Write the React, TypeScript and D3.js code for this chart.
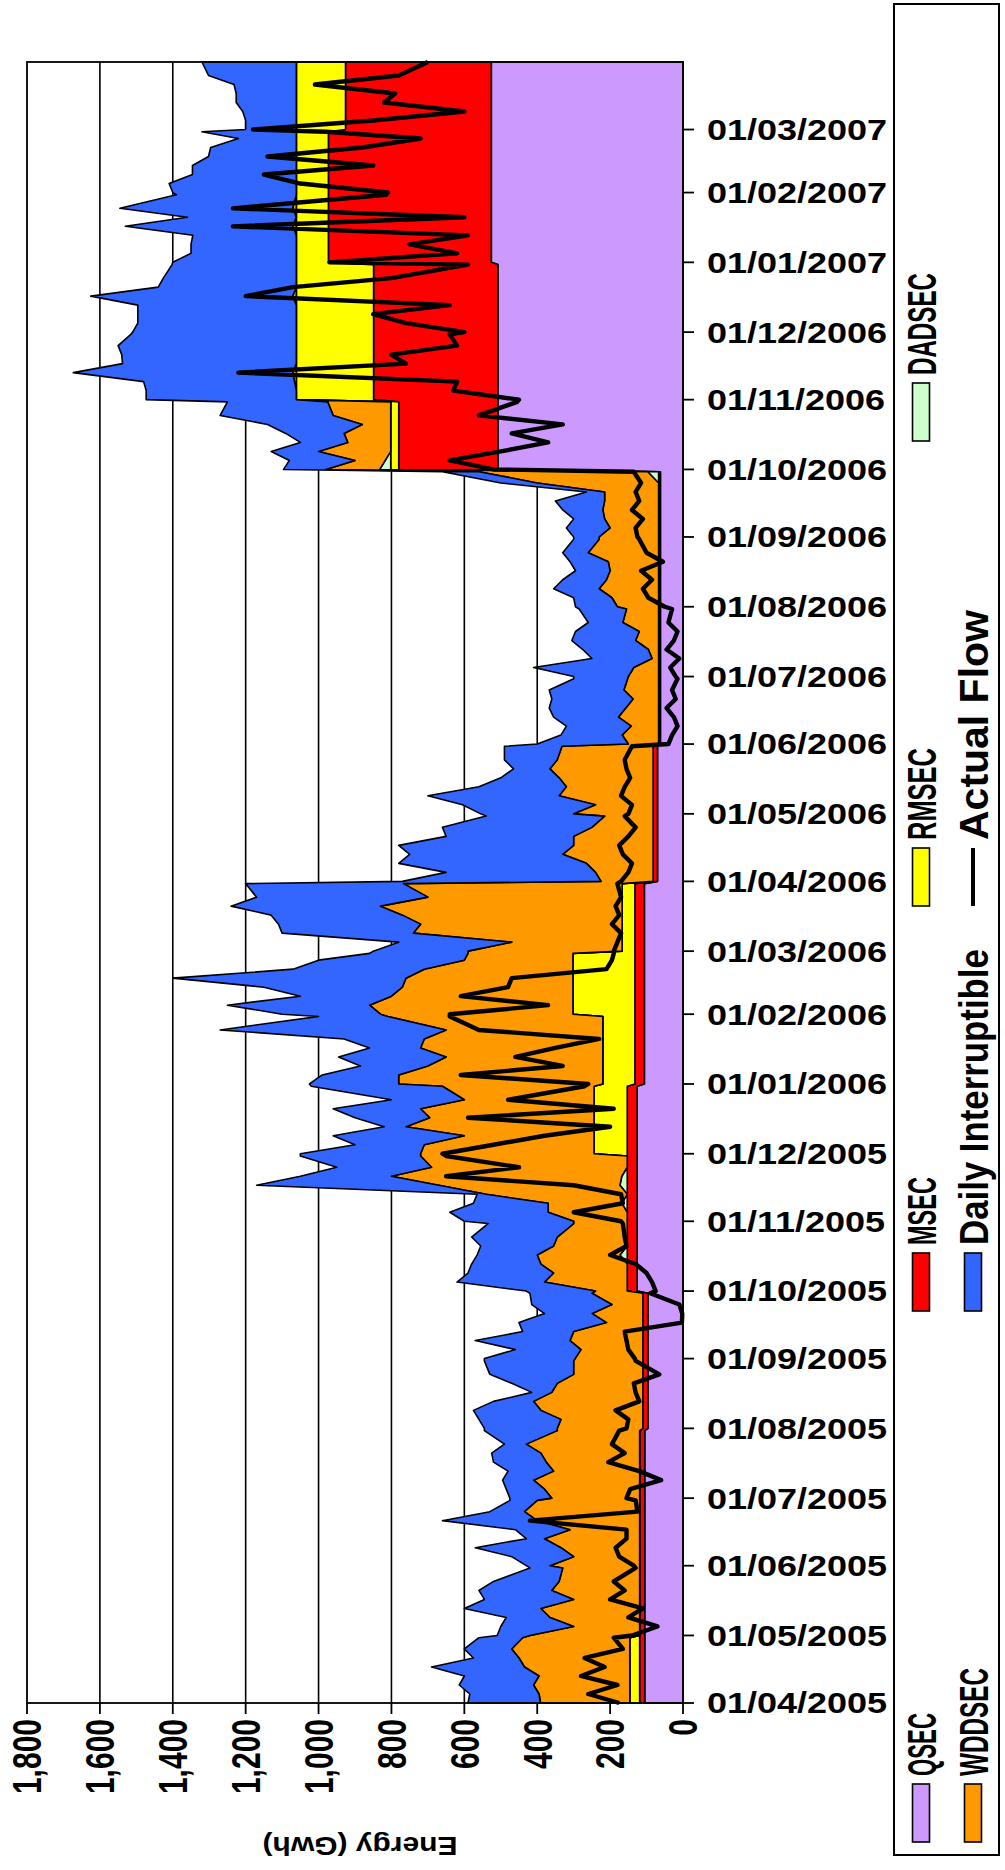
import React from "react";
import * as d3 from "d3";

// ---------- DATA ----------
const MONTHS = [
  "2005-04","2005-05","2005-06","2005-07","2005-08","2005-09","2005-10","2005-11","2005-12",
  "2006-01","2006-02","2006-03","2006-04","2006-05","2006-06","2006-07","2006-08","2006-09",
  "2006-10","2006-11","2006-12","2007-01","2007-02","2007-03",
];
// sample days inside each month (0 = last day of month)
const SAMPLE_DAYS = [1, 5, 9, 13, 17, 21, 25, 0];

// monthly constant series (GWh)
const QSEC = [105,105,105,105,96,96,126,126,126,106,106,106,70,70,62,62,62,62,508,508,508,526,526,526];
const MSEC = [14,14,14,14,14,14,27,27,27,26,26,26,12,12,5,5,5,5,272,341,341,447,447,400];
const RMSEC = [27,0,0,0,0,0,0,0,91,88,170,35,0,0,0,0,0,0,22,212,212,88,88,135];

// per-sample series (8 samples per month)
const DADSEC = [
  [0,0,0,0,0,0,0,0],[0,0,0,0,0,0,0,0],[0,0,0,0,0,0,0,0],[0,0,0,0,0,0,0,0],
  [0,0,0,0,0,0,0,0],[0,0,0,0,0,0,0,0],[0,0,0,0,20,0,0,0],[0,0,15,0,20,15,0,0],
  [0,0,0,0,0,0,0,0],[0,0,0,0,0,0,0,0],[0,0,0,0,0,0,0,0],[0,0,0,0,0,0,0,0],
  [0,0,0,0,0,0,0,0],[0,0,0,0,0,0,0,0],[0,0,0,0,0,0,0,0],[0,0,0,0,0,0,0,0],
  [0,0,0,0,0,0,0,0],[0,0,0,0,0,0,0,30],[30,15,0,0,0,0,0,0],[0,0,0,0,0,0,0,0],
  [0,0,0,0,0,0,0,0],[0,0,0,0,0,0,0,0],[0,0,0,0,0,0,0,0],[0,0,0,0,0,0,0,0],
];
const WDDSEC = [
  [245,249,264,249,289,304,324,294],
  [301,181,246,271,181,241,221,211],
  [246,181,216,261,191,281,316,281],
  [241,261,291,236,256,271,311,226],
  [235,225,280,300,250,235,190,190],
  [186,170,200,190,100,139,85,140],
  [87,227,202,237,227,202,192,147],
  [147,217,202,387,497,632,537,567],
  [476,466,356,516,451,476,356,416],
  [560,560,480,430,500,490,430,590],
  [528,558,498,468,458,408,298,288],
  [423,303,573,553,603,663,533,600],
  [143,158,183,248,218,218,168,133],
  [218,158,258,238,258,283,263,250],
  [83,100,75,110,90,70,95,85],
  [83,68,18,28,63,53,98,88],
  [113,128,163,143,133,138,193,163],
  [163,133,148,153,148,148,333,463],
  [148,83,198,118,128,78,158,173],
  [0,0,5,10,0,0,0,0],
  [0,0,0,0,10,0,0,0],
  [0,0,0,0,10,0,10,0],
  [0,0,0,0,0,0,0,0],
  [0,0,0,0,0,0,0,0],
];
const DAILY_INT = [
  [199,190,204,205,255,125,130,120],
  [90,200,120,210,245,200,180,90],
  [65,170,235,50,150,260,95,75],
  [115,105,85,125,145,135,60,200],
  [200,225,185,110,55,125,230,245],
  [249,180,260,140,240,131,220,170],
  [190,240,235,190,165,200,235,235],
  [300,270,205,25,500,250,260,330],
  [330,190,360,60,205,240,200,360],
  [245,210,185,295,140,220,620,190],
  [270,390,250,380,640,360,400,270],
  [260,310,360,390,360,410,470,433],
  [545,410,515,420,480,350,410,325],
  [255,365,360,240,160,100,145,158],
  [250,168,178,178,210,223,205,148],
  [150,275,165,180,175,175,95,130],
  [115,105,125,120,95,105,70,70],
  [70,120,85,110,135,50,100,100],
  [116,180,130,130,160,260,310,275],
  [412,412,414,602,477,479,489,454],
  [449,435,435,435,554,379,365,341],
  [339,289,289,284,459,299,474,329],
  [339,349,285,285,241,235,159,259],
  [139,139,147,165,165,171,241,259],
];
const ACTUAL_FLOW = [
  [175,260,180,280,215,270,165,190],
  [140,70,150,110,200,160,190,130],
  [135,175,185,155,155,420,125,130],
  [155,145,60,120,205,160,195,175],
  [155,150,185,120,130,135,65,130],
  [132,150,155,160,3,2,10,90],
  [75,85,100,130,200,155,160,165],
  [170,300,165,170,300,650,450,650],
  [660,520,380,200,590,190,480,270],
  [260,610,330,460,350,230,560,640],
  [640,370,610,480,470,210,195,190],
  [190,180,170,195,175,185,170,180],
  [170,150,140,165,175,150,130,160],
  [150,140,170,160,145,155,160,140],
  [40,30,15,25,45,20,30,15],
  [20,35,10,45,25,15,40,30],
  [50,95,110,85,115,55,100,120],
  [125,130,110,140,120,130,115,135],
  [520,640,500,370,470,330,560,455],
  [450,630,620,1220,760,800,620,640],
  [600,760,850,640,1200,1070,800,590],
  [970,620,750,590,1235,600,1235,815],
  [810,1050,1150,850,1140,880,720,980],
  [1180,850,600,820,790,1010,780,700],
];

const VALUE_TICKS = [0, 200, 400, 600, 800, 1000, 1200, 1400, 1600, 1800];
const DATE_TICKS = [
  "01/04/2005","01/05/2005","01/06/2005","01/07/2005","01/08/2005","01/09/2005",
  "01/10/2005","01/11/2005","01/12/2005","01/01/2006","01/02/2006","01/03/2006",
  "01/04/2006","01/05/2006","01/06/2006","01/07/2006","01/08/2006","01/09/2006",
  "01/10/2006","01/11/2006","01/12/2006","01/01/2007","01/02/2007","01/03/2007",
];

const KEYS = ["QSEC", "MSEC", "RMSEC", "DADSEC", "WDDSEC", "Daily Interruptible"];
const COLORS: Record<string, string> = {
  QSEC: "#CC99FF",
  MSEC: "#FF0000",
  RMSEC: "#FFFF00",
  DADSEC: "#CCFFCC",
  WDDSEC: "#FF9900",
  "Daily Interruptible": "#3366FF",
};

// ---------- LAYOUT ----------
const W = 1005, H = 1870;
const PX0 = 27, PX1 = 683; // value 1800 .. 0
const PY0 = 62, PY1 = 1703; // date end .. date start
const FONT = "'Liberation Sans', Arial, Helvetica, sans-serif";
const LEG_FS = 26;

const parseMonth = d3.utcParse("%Y-%m");
const parseDate = d3.utcParse("%d/%m/%Y");

function measure(text: string, size: number): number {
  const c = document.createElement("canvas").getContext("2d");
  if (!c) return text.length * size * 0.6;
  c.font = `bold ${size}px 'Liberation Sans', Arial, sans-serif`;
  return c.measureText(text).width;
}

export default function App() {
  const rows: any[] = [];
  MONTHS.forEach((m, mi) => {
    const start = parseMonth(m) as Date;
    SAMPLE_DAYS.forEach((sd, si) => {
      const date = sd === 0
        ? d3.utcDay.offset(d3.utcMonth.offset(start, 1), -1)
        : d3.utcDay.offset(start, sd - 1);
      rows.push({
        date,
        QSEC: QSEC[mi],
        MSEC: MSEC[mi],
        RMSEC: RMSEC[mi],
        DADSEC: DADSEC[mi][si],
        WDDSEC: WDDSEC[mi][si],
        "Daily Interruptible": DAILY_INT[mi][si],
        flow: ACTUAL_FLOW[mi][si],
      });
    });
  });

  const x = d3.scaleLinear().domain([0, 1800]).range([PX1, PX0]);
  const y = d3.scaleUtc()
    .domain([new Date(Date.UTC(2005, 3, 1)), new Date(Date.UTC(2007, 2, 31))])
    .range([PY1, PY0]);

  const stacked = d3.stack<any>().keys(KEYS)(rows);
  const area = d3.area<any>()
    .y((d) => y(d.data.date))
    .x0((d) => x(d[0]))
    .x1((d) => x(d[1]));
  const flowLine = d3.line<any>()
    .x((d) => x(d.flow))
    .y((d) => y(d.date));

  const fmt = d3.format(",");

  // legend: bottom y of swatch, target text length
  const legendItems = [
    { label: "QSEC", key: "QSEC", col: 0, y: 1842, len: 63 },
    { label: "WDDSEC", key: "WDDSEC", col: 1, y: 1842, len: 108 },
    { label: "MSEC", key: "MSEC", col: 0, y: 1311, len: 68 },
    { label: "Daily Interruptible", key: "Daily Interruptible", col: 1, y: 1311, len: 296 },
    { label: "RMSEC", key: "RMSEC", col: 0, y: 906, len: 92 },
    { label: "Actual Flow", key: "line", col: 1, y: 906, len: 230 },
    { label: "DADSEC", key: "DADSEC", col: 0, y: 441, len: 102 },
  ];
  const colX = [921, 973];
  const swLen = 58, swW = 17;
  const glyphH = 29; // target cap height across the page
  const sxLeg = glyphH / (0.716 * LEG_FS);

  return (
    <svg width={W} height={H} style={{ position: "absolute", left: 0, top: 0, background: "#fff" }}
      fontFamily={FONT} fontWeight="bold">
      <rect x={0} y={0} width={W} height={H} fill="#fff" />
      {/* gridlines */}
      {VALUE_TICKS.filter((v) => v > 0 && v < 1800).map((v) => (
        <line key={"g" + v} x1={x(v)} x2={x(v)} y1={PY0} y2={PY1} stroke="#000" strokeWidth={1.6} />
      ))}
      {/* stacked areas */}
      {stacked.map((s) => (
        <path key={s.key} d={area(s) || ""} fill={COLORS[s.key]} stroke="#000" strokeWidth={1.6}
          strokeLinejoin="round" />
      ))}
      {/* actual flow */}
      <path d={flowLine(rows) || ""} fill="none" stroke="#000" strokeWidth={4.4} strokeLinejoin="round" />
      {/* frame */}
      <rect x={PX0} y={PY0} width={PX1 - PX0} height={PY1 - PY0} fill="none" stroke="#000" strokeWidth={1.8} />
      {/* value axis ticks & labels */}
      {VALUE_TICKS.map((v) => (
        <g key={"vt" + v}>
          <line x1={x(v)} x2={x(v)} y1={PY1} y2={PY1 + 11} stroke="#000" strokeWidth={1.8} />
          <text transform={`translate(${x(v)},${PY1 + 16}) scale(1.38,1) rotate(-90)`}
            textAnchor="end" dominantBaseline="central" fontSize={30}>{fmt(v)}</text>
        </g>
      ))}
      <text transform={`translate(${(PX0 + PX1) / 2 + 5},1846) scale(1.2,1) rotate(180)`}
        textAnchor="middle" dominantBaseline="central" fontSize={25}>Energy (Gwh)</text>
      {/* date axis ticks & labels */}
      {DATE_TICKS.map((t) => {
        const yy = y(parseDate(t) as Date);
        return (
          <g key={"dt" + t}>
            <line x1={PX1} x2={PX1 + 11} y1={yy} y2={yy} stroke="#000" strokeWidth={1.8} />
            <text transform={`translate(${PX1 + 24},${yy}) scale(1.2,1)`}
              dominantBaseline="central" fontSize={30}>{t}</text>
          </g>
        );
      })}
      {/* legend */}
      <rect x={894} y={4} width={105} height={1851} fill="#fff" stroke="#000" strokeWidth={2} />
      {legendItems.map((it) => {
        const cx = colX[it.col];
        const nat = measure(it.label, LEG_FS);
        const syLeg = it.len / nat;
        return (
          <g key={"lg" + it.label}>
            {it.key === "line" ? (
              <line x1={cx} x2={cx} y1={it.y} y2={it.y - swLen} stroke="#000" strokeWidth={4} />
            ) : (
              <rect x={cx - swW / 2} y={it.y - swLen} width={swW} height={swLen}
                fill={COLORS[it.key]} stroke="#000" strokeWidth={1.6} />
            )}
            <text transform={`translate(${cx + 1},${it.y - swLen - 8}) scale(${sxLeg},${syLeg}) rotate(-90)`}
              dominantBaseline="central" fontSize={LEG_FS}>{it.label}</text>
          </g>
        );
      })}
    </svg>
  );
}
